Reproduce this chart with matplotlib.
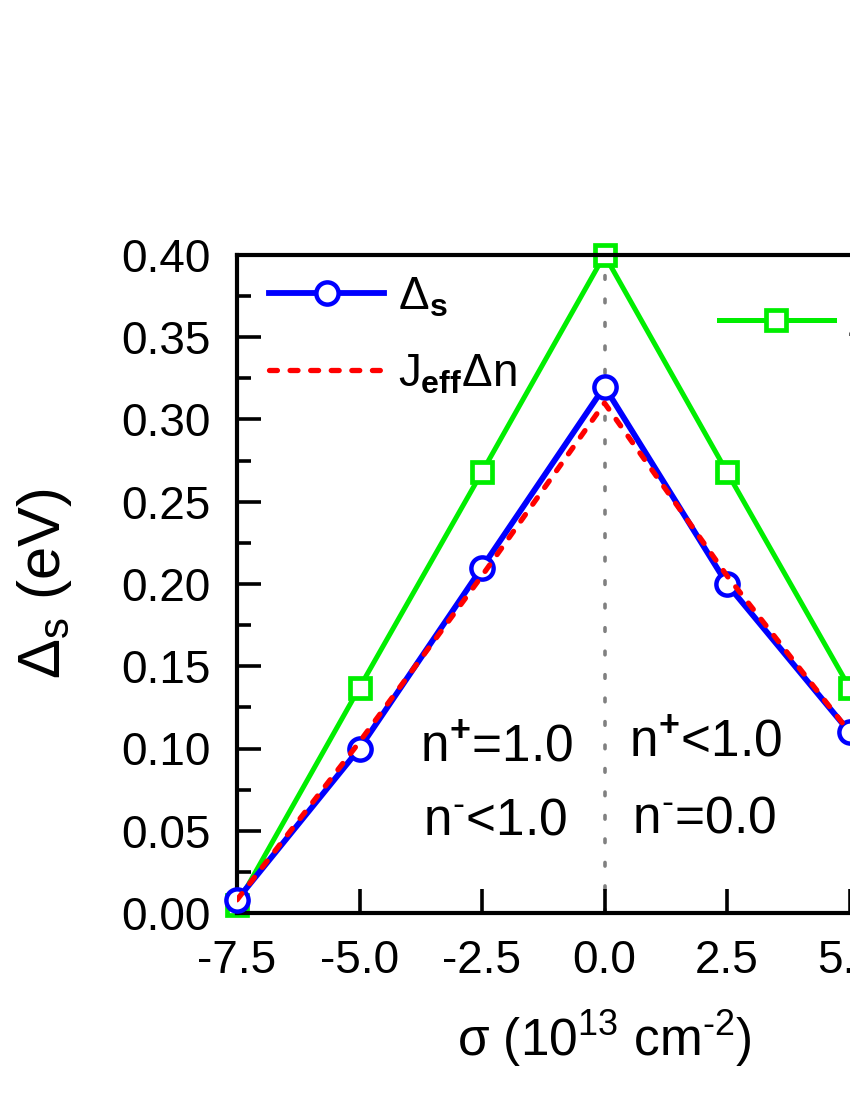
import matplotlib
matplotlib.use('Agg')
import matplotlib.pyplot as plt
from matplotlib.ticker import MultipleLocator

plt.rcParams['font.family'] = ['Liberation Sans', 'DejaVu Sans']
plt.rcParams['mathtext.fontset'] = 'custom'
plt.rcParams['mathtext.rm'] = 'Liberation Sans'
plt.rcParams['mathtext.it'] = 'Liberation Sans'
plt.rcParams['mathtext.bf'] = 'Liberation Sans:bold'

# data
sigma = [-7.5, -5.0, -2.5, 0.0, 2.5, 5.0]
delta_s = [0.008, 0.100, 0.210, 0.320, 0.200, 0.110]
jeff_dn = [0.008, 0.104, 0.205, 0.310, 0.205, 0.110]
delta_green = [0.005, 0.137, 0.268, 0.400, 0.268, 0.137]

labels = [r'$\Delta_\mathbf{s}$', r'$J_\mathbf{eff}\Delta n$', r'$\Delta_\mathbf{0}$']


def plot():
    fig = plt.figure(figsize=(8.5, 11), dpi=100)
    ax = fig.add_axes([237/850, 1-913/1100, 735/850, 658/1100])

    ax.axvline(0.0, color='gray', lw=2.6, linestyle=(0, (1, 5.5)),
               dash_capstyle='round', zorder=1)

    g, = ax.plot(sigma, delta_green, color='#00ee00', lw=3.6, marker='s',
                 markersize=15, markerfacecolor='white', markeredgewidth=3.4,
                 markeredgecolor='#00ee00', zorder=2, clip_on=False)
    b, = ax.plot(sigma, delta_s, color='#0000ff', lw=4.2, marker='o',
                 markersize=16, markerfacecolor='white', markeredgewidth=3.2,
                 zorder=3, clip_on=False)
    r, = ax.plot(sigma, jeff_dn, color='#ff0000', lw=3.8,
                 linestyle=(0, (1.5, 2.4)), dash_capstyle='round', zorder=4)

    ax.set_xlim(-7.5, 7.5)
    ax.set_ylim(0.0, 0.40)
    ax.xaxis.set_major_locator(MultipleLocator(2.5))
    ax.yaxis.set_major_locator(MultipleLocator(0.05))
    ax.yaxis.set_minor_locator(MultipleLocator(0.025))
    ax.xaxis.set_major_formatter(plt.FormatStrFormatter('%.1f'))
    ax.yaxis.set_major_formatter(plt.FormatStrFormatter('%.2f'))
    ax.tick_params(axis='both', which='major', direction='in', length=17,
                   width=2.6, labelsize=33, pad=19)
    ax.tick_params(axis='y', which='minor', direction='in', length=10, width=2.6)
    ax.tick_params(top=False, right=False)
    for sp in ax.spines.values():
        sp.set_linewidth(3.0)

    ax.set_ylabel(r'$\Delta_\mathrm{s}$ (eV)', fontsize=43, labelpad=34)
    ax.set_xlabel(r'$\sigma$ (10$^{13}$ cm$^{\text{-}2}$)', fontsize=37,
                  labelpad=18)

    ax.text(-3.77, 0.092, r'n$^\mathbf{+}$=1.0', fontsize=37)
    ax.text(-3.71, 0.048, r'n$^{\mathbf{\text{-}}}$<1.0', fontsize=37)
    ax.text(0.51, 0.095, r'n$^\mathbf{+}$<1.0', fontsize=37)
    ax.text(0.57, 0.049, r'n$^{\mathbf{\text{-}}}$=0.0', fontsize=37)

    leg1 = ax.legend([b, r], labels[:2], loc='center left',
                     bbox_to_anchor=(0.044, 0.877), frameon=False, fontsize=33,
                     handlelength=2.5, handletextpad=0.3, labelspacing=0.72,
                     borderpad=0, borderaxespad=0, numpoints=1)
    ax.add_artist(leg1)
    ax.legend([g], labels[2:], loc='center left',
              bbox_to_anchor=(0.656, 0.895), frameon=False, fontsize=33,
              handlelength=2.5, handletextpad=0.3, borderpad=0,
              borderaxespad=0, numpoints=1)

    fig.savefig('out.png', dpi=100)


plot()
